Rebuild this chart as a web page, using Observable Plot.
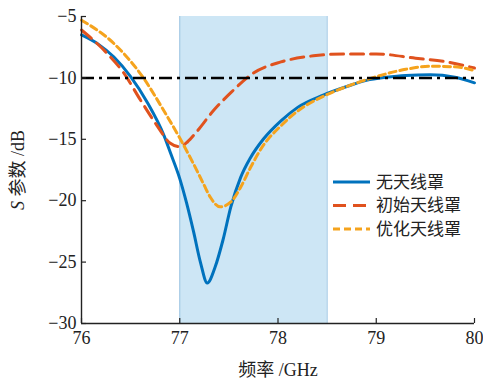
<!DOCTYPE html>
<html><head><meta charset="utf-8">
<script src="https://cdn.jsdelivr.net/npm/d3@7"></script>
<script src="https://cdn.jsdelivr.net/npm/@observablehq/plot@0.6"></script>
<style>body{margin:0;background:#fff} #chart{width:483px;height:380px}</style>
</head><body><div id="chart"></div>
<script>
const seriesNames = ["无天线罩", "初始天线罩", "优化天线罩"];
const seriesColors = ["#0072BD", "#E0521E", "#F5A31D"];
const seriesDash = [null, "13,7", "7,4"];

const bareFreq = [76.0, 76.17, 76.33, 76.5, 76.67, 76.84, 76.91, 77.0, 77.07, 77.14, 77.21, 77.28, 77.36, 77.44, 77.52, 77.62, 77.72, 77.85, 78.03, 78.2, 78.46, 78.7, 78.9, 79.1, 79.3, 79.55, 79.8, 80.0];
const bareS    = [-6.5, -7.25, -8.3, -9.9, -12.0, -14.7, -16.2, -18.2, -20.2, -22.5, -25.0, -26.7, -25.4, -23.2, -20.5, -18.1, -16.5, -15.0, -13.5, -12.4, -11.4, -10.7, -10.2, -9.95, -9.8, -9.75, -9.95, -10.4];

const initFreq = [76.0, 76.26, 76.43, 76.6, 76.77, 76.9, 77.0, 77.08, 77.16, 77.35, 77.52, 77.75, 78.03, 78.36, 78.67, 79.0, 79.4, 79.72, 80.0];
const initS    = [-6.1, -8.0, -9.6, -11.8, -13.9, -15.3, -15.6, -15.2, -14.5, -12.6, -11.2, -9.6, -8.7, -8.2, -8.05, -8.05, -8.4, -8.7, -9.2];

const optFreq = [76.0, 76.33, 76.63, 76.84, 77.0, 77.14, 77.24, 77.31, 77.41, 77.52, 77.62, 77.72, 77.85, 78.03, 78.2, 78.46, 78.7, 79.0, 79.3, 79.55, 79.8, 80.0];
const optS    = [-5.3, -7.2, -10.0, -12.7, -14.9, -17.0, -18.6, -19.7, -20.5, -20.1, -18.9, -17.3, -15.5, -13.9, -12.7, -11.5, -10.7, -9.9, -9.3, -9.05, -9.1, -9.4];

const band = [77, 78.5];
const refLevel = -10;
const xTicks = [76, 77, 78, 79, 80];
const yTicks = [-30, -25, -20, -15, -10, -5];

const freqs = [bareFreq, initFreq, optFreq];
const vals = [bareS, initS, optS];
const series = seriesNames.map((name, i) => freqs[i].map((f, j) => ({f, s: vals[i][j], name})));

const W = 483, H = 380, mL = 81, mR = 9, mT = 16, mB = 57;
const plotH = H - mT - mB, plotW = W - mL - mR;

const marks = [
  Plot.rect([{x1: band[0], x2: band[1]}], {x1: "x1", x2: "x2", fill: "#cde6f5"}),
  Plot.ruleX(band, {stroke: "#a6cbe6", strokeWidth: 1.2}),
];
series.forEach((d, i) => {
  marks.push(Plot.line(d, {x: "f", y: "s", stroke: seriesColors[i], strokeWidth: 3, curve: "monotone-x", strokeDasharray: seriesDash[i] || undefined}));
});
marks.push(
  Plot.ruleY([refLevel], {stroke: "#000", strokeWidth: 2.5, strokeDasharray: "13,5,3,5"}),
  Plot.ruleX([xTicks[0]], {stroke: "#222", strokeWidth: 1.4}),
  Plot.ruleY([yTicks[0]], {stroke: "#222", strokeWidth: 1.4}),
  Plot.ruleX(xTicks, {stroke: "#222", strokeWidth: 1.2, insetTop: plotH - 5}),
  Plot.ruleY(yTicks, {stroke: "#222", strokeWidth: 1.2, insetRight: plotW - 5}),
  Plot.axisX({ticks: xTicks, tickSize: 0, tickPadding: 8, tickFormat: d => String(d), label: "频率 /GHz", labelAnchor: "center", labelOffset: 52, labelArrow: "none"}),
  Plot.axisY({ticks: yTicks, tickSize: 0, tickPadding: 5, tickFormat: d => (d < 0 ? "\u2212" + Math.abs(d) : String(d)), label: "S 参数 /dB", labelAnchor: "center", labelOffset: 70, labelArrow: "none"})
);

const chart = Plot.plot({
  width: W, height: H,
  marginLeft: mL, marginRight: mR, marginTop: mT, marginBottom: mB,
  x: {domain: [76, 80]},
  y: {domain: [-30, -5]},
  style: {fontFamily: "'Liberation Serif', 'Noto Sans CJK SC', serif", fontSize: "18px", color: "#222", background: "#fff"},
  marks
});
document.getElementById("chart").appendChild(chart);

// italic S in y label
const svg = d3.select(chart);
svg.selectAll("text").each(function() {
  const t = d3.select(this);
  if (t.text() === "S 参数 /dB") {
    t.text("");
    t.append("tspan").attr("font-style", "italic").text("S");
    t.append("tspan").text(" 参数 /dB");
  }
});

// legend
const lg = svg.append("g").attr("font-family", "'Noto Sans CJK SC', sans-serif").attr("font-size", 17).attr("fill", "#222").attr("text-anchor", "start");
seriesNames.forEach((name, i) => {
  const y = 182 + i * 23.5;
  lg.append("line").attr("x1", 333).attr("x2", 370).attr("y1", y).attr("y2", y)
    .attr("stroke", seriesColors[i]).attr("stroke-width", 3).attr("stroke-dasharray", seriesDash[i]);
  lg.append("text").attr("x", 376).attr("y", y).attr("dy", "0.35em").attr("text-anchor", "start").text(name);
});
</script></body></html>
